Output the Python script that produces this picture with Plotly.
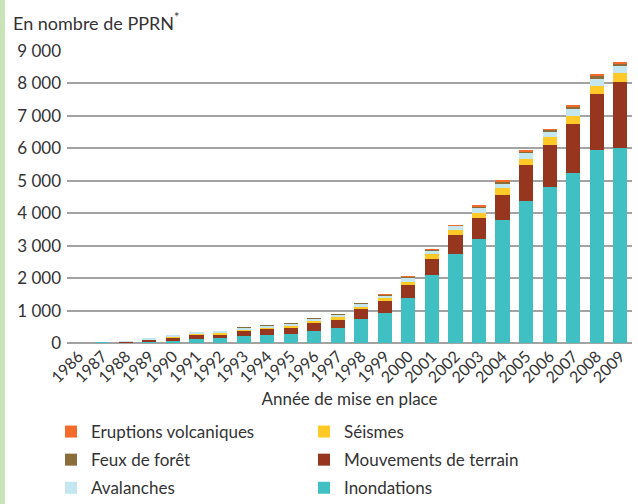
import plotly.graph_objects as go

years = [str(y) for y in range(1986, 2010)]
inondations = [0, 30, 20, 50, 62, 123, 154, 216, 247, 277, 370, 462, 740, 925, 1387, 2096, 2743, 3206, 3792, 4377, 4810, 5240, 5950, 6020]
mouvements = [0, 0, 30, 52, 92, 124, 123, 164, 185, 185, 247, 247, 308, 370, 401, 493, 586, 647, 770, 1110, 1290, 1510, 1725, 2025]
seismes = [0, 0, 5, 21, 31, 40, 31, 42, 40, 62, 61, 83, 62, 92, 92, 154, 154, 154, 225, 183, 250, 250, 245, 275]
avalanches = [0, 0, 5, 31, 31, 31, 62, 50, 52, 62, 62, 71, 102, 62, 133, 93, 124, 163, 123, 196, 155, 220, 230, 220]
feux = [0, 0, 0, 0, 0, 0, 0, 5, 5, 5, 5, 5, 10, 31, 22, 31, 21, 22, 62, 44, 60, 70, 100, 80]
eruptions = [0, 0, 0, 0, 0, 0, 0, 0, 0, 0, 0, 0, 0, 5, 5, 10, 9, 31, 22, 30, 30, 15, 30, 40]

series = [
    ("Inondations", inondations, "#41C0C4", "legend2", 3),
    ("Mouvements de terrain", mouvements, "#96361E", "legend2", 2),
    ("Séismes", seismes, "#FFCA28", "legend2", 1),
    ("Avalanches", avalanches, "#C3E6EF", "legend", 3),
    ("Feux de forêt", feux, "#8A6D3B", "legend", 2),
    ("Eruptions volcaniques", eruptions, "#F26B2B", "legend", 1),
]

FONT = "Lato"
TXT = "#333333"
fig = go.Figure()
for name, vals, color, leg, rank in series:
    fig.add_trace(go.Bar(
        x=years, y=vals, name=name, marker=dict(color=color, line=dict(width=0)),
        legend=leg, legendrank=rank, legendgroup=name,
    ))

W, H = 638, 504
L, R, T, B = 67, 6, 51, 161
pw = W - L - R
ph = H - T - B

legend_common = dict(
    orientation="v", xanchor="left", yanchor="top", xref="container", yref="container",
    font=dict(family=FONT, size=17, color=TXT),
    bgcolor="rgba(0,0,0,0)", tracegroupgap=3, itemclick=False,
)

fig.update_layout(
    width=W, height=H,
    margin=dict(l=L, r=R, t=T, b=B, autoexpand=False),
    barmode="stack", bargap=0.4,
    plot_bgcolor="white", paper_bgcolor="white",
    separators=", ",
    font=dict(family=FONT, size=17, color=TXT),
    legend=dict(x=51 / W, y=1 - 414 / H, **legend_common),
    legend2=dict(x=304 / W, y=1 - 414 / H, **legend_common),
    xaxis=dict(
        type="category", tickangle=-45, showgrid=False, showline=False, automargin=False,
        ticks="", tickfont=dict(family=FONT, size=16, color=TXT),
        title=dict(text="Année de mise en place", font=dict(family=FONT, size=17, color=TXT), standoff=8),
    ),
    yaxis=dict(
        range=[0, 9000], dtick=1000, tickformat=",d", automargin=False,
        showgrid=True, gridcolor="#a3a3a3", gridwidth=1.5,
        zeroline=True, zerolinecolor="#a3a3a3", zerolinewidth=2,
        ticks="", ticklabelstandoff=5,
        tickfont=dict(family=FONT, size=17, color=TXT),
    ),
    shapes=[dict(
        type="rect", xref="paper", yref="paper",
        x0=-L / pw, x1=(5 - L) / pw, y0=-B / ph, y1=1 + T / ph,
        fillcolor="#C8E4B8", line=dict(width=0), layer="below",
    )],
    annotations=[dict(
        text="En nombre de PPRN<sup>*</sup>", xref="paper", yref="paper",
        x=(11 - L) / pw, y=1 + (51 - 22) / ph, xanchor="left", yanchor="middle",
        showarrow=False, font=dict(family=FONT, size=18, color=TXT),
    )],
)

fig.write_html(
    "out.html",
    config={"displayModeBar": False},
    post_script="document.body.style.margin='0';document.body.style.padding='0';",
)
